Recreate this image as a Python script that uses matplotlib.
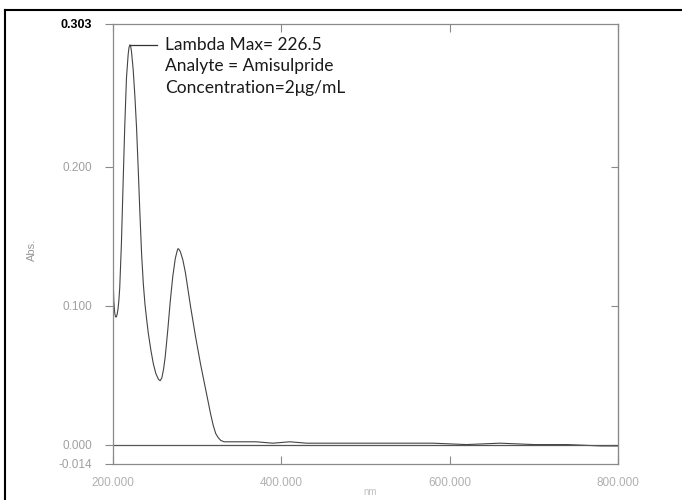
import matplotlib
matplotlib.use("Agg")
import matplotlib.pyplot as plt
from matplotlib.lines import Line2D

# Spectrum (wavelength in nm, absorbance)
wavelength = [200, 201, 202, 203, 204, 205, 206, 207, 208, 210, 212, 214, 216,
              218, 219, 220, 221, 222, 224, 226, 228, 230, 232, 234, 236, 238,
              240, 242, 245, 248, 251, 254, 256, 258, 260, 262, 265, 268, 271,
              274, 276, 277, 278, 280, 283, 286, 289, 292, 295, 298, 301, 304,
              307, 310, 313, 316, 319, 322, 325, 328, 332, 340, 350, 370, 390,
              410, 430, 460, 500, 540, 580, 620, 660, 700, 740, 780, 800]
absorbance = [0.122, 0.103, 0.095, 0.092, 0.092, 0.094, 0.098, 0.104, 0.113,
              0.145, 0.188, 0.230, 0.264, 0.281, 0.286, 0.288, 0.287, 0.283,
              0.270, 0.251, 0.228, 0.198, 0.166, 0.137, 0.116, 0.101, 0.090,
              0.080, 0.068, 0.058, 0.051, 0.047, 0.046, 0.048, 0.054, 0.063,
              0.082, 0.103, 0.121, 0.134, 0.139, 0.141, 0.141, 0.139, 0.133,
              0.124, 0.112, 0.100, 0.089, 0.078, 0.068, 0.058, 0.049, 0.040,
              0.031, 0.022, 0.014, 0.008, 0.005, 0.003, 0.002, 0.002, 0.002,
              0.002, 0.001, 0.002, 0.001, 0.001, 0.001, 0.001, 0.001, 0.000,
              0.001, 0.000, 0.000, -0.001, -0.001]

peak_wl = 220
peak_abs = 0.288
annotation_lines = ["Lambda Max= 226.5", "Analyte = Amisulpride", "Concentration=2\u03bcg/mL"]

x_ticks = [200, 400, 600, 800]
x_tick_labels = ["200.000", "400.000", "600.000", "800.000"]
y_ticks = [-0.014, 0.000, 0.100, 0.200, 0.303]
y_tick_labels = ["-0.014", "0.000", "0.100", "0.200", "0.303"]

W, H = 682, 500
fig = plt.figure(figsize=(6.82, 5.0), dpi=100)
top_px, bot_px, left_px, right_px = 24, 464, 113, 618
ax = fig.add_axes([left_px / W, 1 - bot_px / H, (right_px - left_px) / W, (bot_px - top_px) / H])

grey = "#8a8a8a"
ax.plot(wavelength, absorbance, color="#444444", lw=0.8)
ax.axhline(0.0, color="#555555", lw=0.9)

ax.set_xlim(200, 800)
ax.set_ylim(-0.014, 0.303)

for s in ax.spines.values():
    s.set_color(grey)
    s.set_linewidth(0.9)

ax.set_xticks(x_ticks)
ax.set_xticklabels(x_tick_labels, fontsize=8.5, color="#b0b0b0", family="Liberation Sans")
ax.set_yticks(y_ticks)
ax.set_yticklabels(y_tick_labels, fontsize=8.5, color="#a0a0a0", family="Liberation Sans")
ax.tick_params(axis="x", direction="in", length=6, color=grey, top=True, pad=9)
ax.tick_params(axis="y", direction="out", length=6, color=grey, pad=9)
lbl = ax.get_yticklabels()[-1]
lbl.set_color("black")
lbl.set_fontweight("bold")
lbl.set_fontsize(9)

sec = ax.secondary_yaxis("right")
sec.set_yticks(y_ticks[1:4])
sec.tick_params(direction="in", length=5, color=grey, labelright=False)
sec.spines["right"].set_color(grey)

# annotation with leader line
ax.plot([peak_wl, 252], [peak_abs, peak_abs], color="#333333", lw=0.9)
for i, line in enumerate(annotation_lines):
    fig.text(165 / W, 1 - (45 + 21.5 * i) / H, line, fontsize=12.5, family="Lato",
             color="#1a1a1a", ha="left", va="center")

fig.text(32 / W, 1 - 250 / H, "Abs.", rotation=90, fontsize=8, color="#999999",
         ha="center", va="center", family="Liberation Sans")
fig.text(370 / W, 1 - 492 / H, "nm", fontsize=7, color="#c0c0c0",
         ha="center", va="center", family="Liberation Sans")

# scan frame (top and left edges)
fig.add_artist(Line2D([5 / W, 1.0], [1 - 10 / H, 1 - 10 / H], color="black", lw=1.5,
                      transform=fig.transFigure))
fig.add_artist(Line2D([5 / W, 5 / W], [0, 1 - 10 / H], color="black", lw=1.5,
                      transform=fig.transFigure))

fig.savefig("out.png", dpi=100)
